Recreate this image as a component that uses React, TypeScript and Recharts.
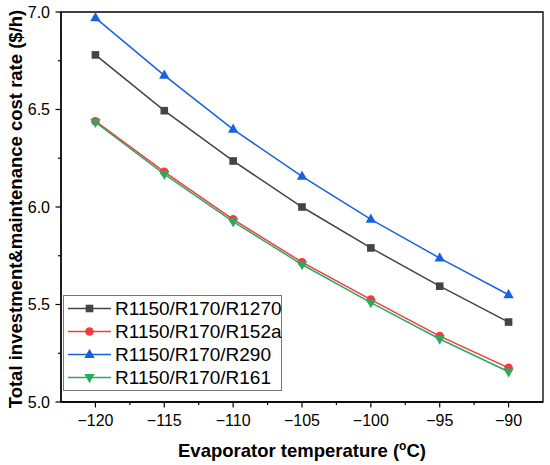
import React from "react";
import {
  Legend,
  Line,
  LineChart,
  ReferenceArea,
  XAxis,
  YAxis,
  Label,
} from "recharts";

const temps = [-120, -115, -110, -105, -100, -95, -90];
const r1270 = [6.78, 6.494, 6.236, 6.0, 5.79, 5.594, 5.41];
const r152a = [6.44, 6.18, 5.937, 5.717, 5.525, 5.338, 5.175];
const r290 = [6.97, 6.675, 6.398, 6.157, 5.937, 5.738, 5.55];
const r161 = [6.435, 6.168, 5.925, 5.705, 5.51, 5.323, 5.155];

const xTicks = [-120, -117.5, -115, -112.5, -110, -107.5, -105, -102.5, -100, -97.5, -95, -92.5, -90];
const yTicks = [5.0, 5.25, 5.5, 5.75, 6.0, 6.25, 6.5, 6.75, 7.0];

type Shape = "square" | "circle" | "up" | "down";

const series: { key: string; name: string; color: string; shape: Shape }[] = [
  { key: "r1270", name: "R1150/R170/R1270", color: "#444444", shape: "square" },
  { key: "r152a", name: "R1150/R170/R152a", color: "#f23c3c", shape: "circle" },
  { key: "r290", name: "R1150/R170/R290", color: "#1663e0", shape: "up" },
  { key: "r161", name: "R1150/R170/R161", color: "#2ca862", shape: "down" },
];

const data = temps.map((t, i) => ({
  t,
  r1270: r1270[i],
  r152a: r152a[i],
  r290: r290[i],
  r161: r161[i],
}));

const FONT = "Arial, 'Liberation Sans', sans-serif";

function Marker({ shape, cx, cy, color }: { shape: Shape; cx: number; cy: number; color: string }) {
  if (shape === "square") return <rect x={cx - 3.8} y={cy - 3.8} width={7.6} height={7.6} fill={color} />;
  if (shape === "circle") return <circle cx={cx} cy={cy} r={4.3} fill={color} />;
  if (shape === "up")
    return <polygon points={`${cx},${cy - 5.8} ${cx - 5.2},${cy + 3.4} ${cx + 5.2},${cy + 3.4}`} fill={color} />;
  return <polygon points={`${cx},${cy + 5.8} ${cx - 5.2},${cy - 3.4} ${cx + 5.2},${cy - 3.4}`} fill={color} />;
}

const makeDot = (shape: Shape, color: string) => (props: any) => {
  const { cx, cy, index } = props;
  return (
    <g key={`${shape}-${index}`}>
      <Marker shape={shape} cx={cx} cy={cy} color={color} />
    </g>
  );
};

const fmtX = (v: number) => (v < 0 ? "\u2212" + Math.abs(v) : String(v));

function XTick(props: any) {
  const { x, y, payload } = props;
  const major = payload.value % 5 === 0;
  return (
    <g>
      <line x1={x} x2={x} y1={y} y2={y + (major ? 5.5 : 3)} stroke="#000" strokeWidth={1.2} />
      {major && (
        <text x={x} y={y + 24} textAnchor="middle" fontSize={16} fontFamily={FONT} fill="#000">
          {fmtX(payload.value)}
        </text>
      )}
    </g>
  );
}

function YTick(props: any) {
  const { x, y, payload } = props;
  const major = Math.abs((payload.value * 2) % 1) < 1e-6;
  return (
    <g>
      <line x1={x} x2={x - (major ? 5.5 : 3)} y1={y} y2={y} stroke="#000" strokeWidth={1.2} />
      {major && (
        <text x={x - 11} y={y + 5.6} textAnchor="end" fontSize={16} fontFamily={FONT} fill="#000">
          {payload.value.toFixed(1)}
        </text>
      )}
    </g>
  );
}

function LegendBox() {
  return (
    <div
      style={{
        width: 217,
        border: "1px solid #777",
        background: "#fff",
        padding: "1px 0",
        fontFamily: FONT,
        fontSize: 19,
        color: "#000",
      }}
    >
      {series.map((s) => (
        <div key={s.key} style={{ display: "flex", alignItems: "center", height: 23 }}>
          <svg width={51} height={23} style={{ display: "block", flex: "none" }}>
            <line x1={4} x2={47} y1={11.5} y2={11.5} stroke={s.color} strokeWidth={1.5} />
            <Marker shape={s.shape} cx={25.5} cy={11.5} color={s.color} />
          </svg>
          <span style={{ lineHeight: "23px", whiteSpace: "nowrap" }}>{s.name}</span>
        </div>
      ))}
    </div>
  );
}

export default function App() {
  return (
    <div style={{ position: "absolute", left: 0, top: 0, width: 550, height: 465, background: "#fff" }}>
      <LineChart width={550} height={465} data={data} margin={{ top: 12, right: 7, bottom: 33, left: 16 }}>
        <XAxis
          dataKey="t"
          type="number"
          domain={[-122.5, -87.5]}
          ticks={xTicks}
          interval={0}
          tickSize={0}
          tickMargin={0}
          tick={<XTick />}
          height={30}
          axisLine={{ stroke: "#000", strokeWidth: 1.3 }}
        >
          <Label
            content={() => (
              <text x={302} y={457} textAnchor="middle" fontSize={18.5} fontWeight="bold" fontFamily={FONT} fill="#000">
                Evaporator temperature (
                <tspan fontSize={12} dy={-7.5}>o</tspan>
                <tspan dy={7.5}>C)</tspan>
              </text>
            )}
          />
        </XAxis>
        <YAxis
          type="number"
          domain={[5, 7]}
          ticks={yTicks}
          interval={0}
          tickSize={0}
          tickMargin={0}
          tick={<YTick />}
          width={45}
          axisLine={{ stroke: "#000", strokeWidth: 1.3 }}
        >
          <Label
            content={() => (
              <text
                x={0}
                y={0}
                transform="translate(21.5,209) rotate(-90)"
                textAnchor="middle"
                fontSize={18.5}
                fontWeight="bold"
                fontFamily={FONT}
                fill="#000"
              >
                Total investment&amp;maintenance cost rate ($/h)
              </text>
            )}
          />
        </YAxis>
        <ReferenceArea
          x1={-122.5}
          x2={-87.5}
          y1={5}
          y2={7}
          fill="none"
          fillOpacity={0}
          stroke="#000"
          strokeWidth={1.3}
        />
        {series.map((s) => (
          <Line
            key={s.key}
            dataKey={s.key}
            name={s.name}
            stroke={s.color}
            strokeWidth={1.5}
            dot={makeDot(s.shape, s.color)}
            activeDot={false}
            isAnimationActive={false}
          />
        ))}
        <Legend
          layout="vertical"
          align="center"
          verticalAlign="middle"
          wrapperStyle={{ left: 63, top: 295, width: "auto" }}
          content={() => <LegendBox />}
        />
      </LineChart>
    </div>
  );
}
